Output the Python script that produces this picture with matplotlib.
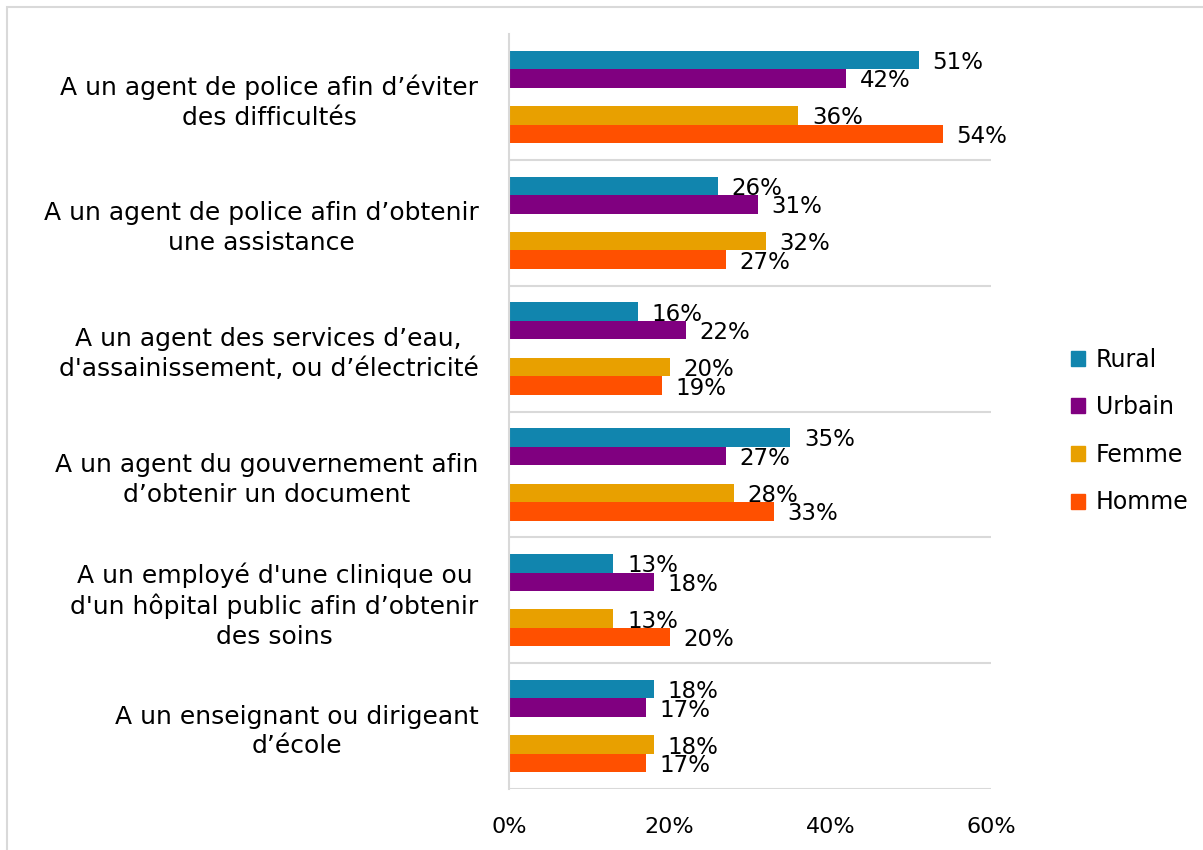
import numpy as np
import matplotlib
matplotlib.use("Agg")
import matplotlib.pyplot as plt
from matplotlib.patches import Patch, Rectangle

# Data
categories = [
    "A un agent de police afin d\u2019éviter\ndes difficultés",
    "A un agent de police afin d\u2019obtenir\nune assistance",
    "A un agent des services d\u2019eau,\nd'assainissement, ou d\u2019électricité",
    "A un agent du gouvernement afin\nd\u2019obtenir un document",
    "A un employé d'une clinique ou\nd'un hôpital public afin d\u2019obtenir\ndes soins",
    "A un enseignant ou dirigeant\nd\u2019école",
]
series = ["Rural", "Urbain", "Femme", "Homme"]
rural = [51, 26, 16, 35, 13, 18]
urbain = [42, 31, 22, 27, 18, 17]
femme = [36, 32, 20, 28, 13, 18]
homme = [54, 27, 19, 33, 20, 17]
colors = ["#1185AE", "#800080", "#E8A000", "#FF5000"]
xticks = [0, 20, 40, 60]

plt.rcParams["font.family"] = ["DejaVu Sans"]

fig = plt.figure(figsize=(12.03, 8.5), dpi=100)
ax = fig.add_axes([509 / 1203, 1 - 789 / 850, (991 - 509) / 1203, 755 / 850])

y = np.arange(len(categories))
h = 0.147
offsets = [-2 * h, -h, h, 2 * h]
for vals, col, off, name in zip([rural, urbain, femme, homme], colors, offsets, series):
    ax.barh(y + off, vals, height=h, color=col, label=name, linewidth=0)
    # value labels (they overlap each other in the original too)
    for yi, v in zip(y, vals):
        ax.text(v + 1.7, yi + off + 0.02, f"{v}%", va="center", ha="left",
                fontsize=16.5, color="black")

ax.set_xlim(0, 60)
ax.set_ylim(len(categories) - 0.5, -0.5)
ax.set_xticks(xticks)
ax.set_xticklabels([f"{t}%" for t in xticks], fontsize=16)
ax.tick_params(axis="x", length=0, pad=20)
ax.set_yticks(y)
ax.set_yticklabels(categories, fontsize=18, multialignment="center", linespacing=1.3)
ax.tick_params(axis="y", length=0, pad=22)

# separators between categories
for b in np.arange(0.5, len(categories), 1):
    ax.axhline(b, color="#d9d9d9", linewidth=1.5, zorder=0)
for s in ["top", "right", "bottom"]:
    ax.spines[s].set_visible(False)
ax.spines["left"].set_color("#d9d9d9")
ax.spines["left"].set_linewidth(1.5)

handles = [Patch(color=c) for c in colors]
fig.legend(handles, series, loc="center left", bbox_to_anchor=(1050 / 1203, 1 - 431 / 850),
           frameon=False, fontsize=17, handlelength=0.6, handleheight=0.6,
           handletextpad=0.45, labelspacing=1.0)

# outer chart border
fig.patches.append(Rectangle((7 / 1203, -0.1), 1.2, 1 - 7 / 850 + 0.1,
                             transform=fig.transFigure, fill=False,
                             edgecolor="#d9d9d9", linewidth=1.5))

fig.savefig("out.png", dpi=100)
